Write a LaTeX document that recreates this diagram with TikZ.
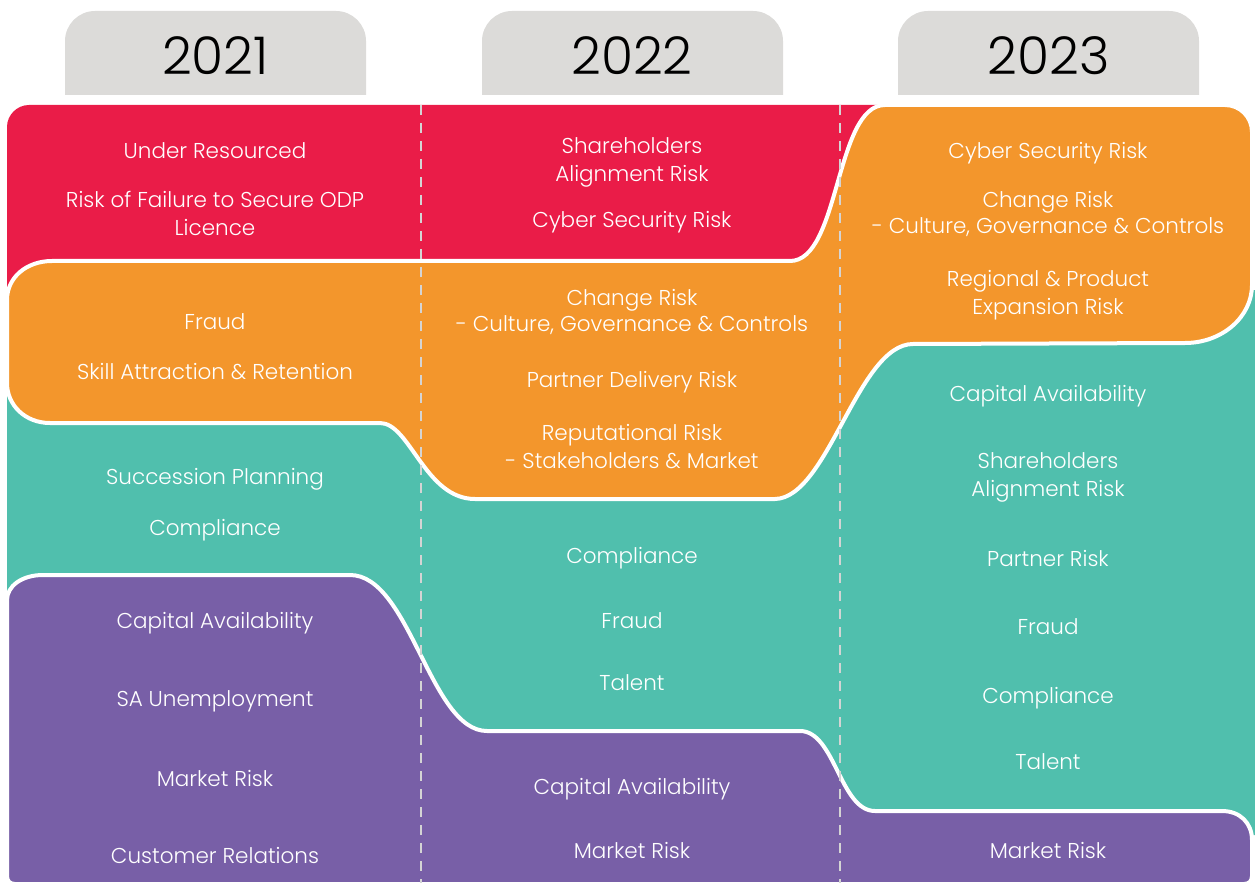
\documentclass[tikz,border=0pt]{standalone}
\usepackage{fontspec}
\IfFontExistsTF{Poppins Light}{\setmainfont{Poppins Light}}{\setmainfont{Poppins}}
\definecolor{cred}{HTML}{EA1C48}
\definecolor{corange}{HTML}{F3962C}
\definecolor{cteal}{HTML}{50BFAD}
\definecolor{cpurple}{HTML}{785FA7}
\definecolor{ctab}{HTML}{DCDBD9}
\definecolor{cdash}{HTML}{D4D4D4}
\begin{document}
\begin{tikzpicture}[x=1pt,y=-1pt,
  lbl/.style={font=\fontsize{21.5}{28}\selectfont, text=white, align=center, inner sep=0pt},
  lblt/.style={lbl, font=\fontsize{21.5}{26}\selectfont},
  year/.style={font=\fontsize{52}{60}\selectfont, text=black, inner sep=0pt},
  band/.style={draw=white, line width=4pt, line join=round},
  divider/.style={draw=cdash, line width=2.2pt, dash pattern=on 10pt off 8pt}]
\useasboundingbox (0,0) rectangle (1255,885);

% year tabs
\foreach \x in {65,482,898}{
  \fill[ctab] (\x,95) -- (\x,41) .. controls (\x,24.5) and ({\x+13.5},11) .. ({\x+30},11)
    -- ({\x+271},11) .. controls ({\x+287.5},11) and ({\x+301},24.5) .. ({\x+301},41)
    -- ({\x+301},95) -- cycle;
}
\node[year] (y2021) at (215.5,56) {2021};
\node[year] (y2022) at (632,56) {2022};
\node[year] (y2023) at (1048.5,56) {2023};

% background bands
\fill[cred] (7,320) -- (7,127) .. controls (7,115) and (17,105) .. (29,105) -- (885,105) -- (885,300) -- cycle;
\fill[cteal] (7,320) -- (760,320) -- (900,290) -- (1255,290) -- (1255,835) -- (7,835) -- cycle;

% orange band
\path[band, fill=corange] (7,300) .. controls (7,277) and (27,261) .. (52,261)
  -- (790,261) .. controls (840,261) and (835,105) .. (885,105)
  -- (1225,105) .. controls (1240,105) and (1252,117) .. (1252,132)
  -- (1252,285) .. controls (1252,317) and (1222,343) .. (1185,343)
  -- (913,344) .. controls (858,344) and (828,498) .. (775,499)
  -- (475,499) .. controls (425,499) and (410,423) .. (380,423)
  -- (50,423) .. controls (25,423) and (7,405) .. (7,383) -- cycle;

% purple band
\path[band, fill=cpurple] (7,600) .. controls (7,586) and (22,575) .. (43,575)
  -- (350,575) .. controls (410,575) and (430,731) .. (487,731)
  -- (800,731) .. controls (835,731) and (840,811) .. (875,811)
  -- (1222,811) .. controls (1240,811) and (1252,823) .. (1252,840)
  -- (1252,876) .. controls (1252,881) and (1249,884) .. (1244,884)
  -- (15,884) .. controls (10,884) and (7,881) .. (7,876) -- cycle;

% dashed column dividers
\draw[divider] (421,105) -- (421,883);
\draw[divider] (840,105) -- (840,883);

% column 2021
\node[lbl] (a1) at (215,153) {\strut Under Resourced\strut};
\node[lbl] (a2) at (215,215.5) {\strut Risk of Failure to Secure ODP\\Licence\strut};
\node[lbl] (a3) at (215,324) {\strut Fraud\strut};
\node[lbl] (a4) at (215,374) {\strut Skill Attraction \& Retention\strut};
\node[lbl] (a5) at (215,479) {\strut Succession Planning\strut};
\node[lbl] (a6) at (215,530) {\strut Compliance\strut};
\node[lbl] (a7) at (215,623) {\strut Capital Availability\strut};
\node[lbl] (a8) at (215,701) {\strut SA Unemployment\strut};
\node[lbl] (a9) at (215,781) {\strut Market Risk\strut};
\node[lbl] (a10) at (215,858) {\strut Customer Relations\strut};

% column 2022
\node[lbl] (b1) at (632,162) {\strut Shareholders\\Alignment Risk\strut};
\node[lbl] (b2) at (632,222) {\strut Cyber Security Risk\strut};
\node[lblt] (b3) at (632,313) {\strut Change Risk\\- Culture, Governance \& Controls\strut};
\node[lbl] (b4) at (632,382) {\strut Partner Delivery Risk\strut};
\node[lbl] (b5) at (632,449) {\strut Reputational Risk\\- Stakeholders \& Market\strut};
\node[lbl] (b6) at (632,558) {\strut Compliance\strut};
\node[lbl] (b7) at (632,623) {\strut Fraud\strut};
\node[lbl] (b8) at (632,685) {\strut Talent\strut};
\node[lbl] (b9) at (632,789) {\strut Capital Availability\strut};
\node[lbl] (b10) at (632,853) {\strut Market Risk\strut};

% column 2023
\node[lbl] (c1) at (1048,153) {\strut Cyber Security Risk\strut};
\node[lblt] (c2) at (1048,215.5) {\strut Change Risk\\- Culture, Governance \& Controls\strut};
\node[lbl] (c3) at (1048,295) {\strut Regional \& Product\\Expansion Risk\strut};
\node[lbl] (c4) at (1048,396) {\strut Capital Availability\strut};
\node[lbl] (c5) at (1048,476.5) {\strut Shareholders\\Alignment Risk\strut};
\node[lbl] (c6) at (1048,561) {\strut Partner Risk\strut};
\node[lbl] (c7) at (1048,629) {\strut Fraud\strut};
\node[lbl] (c8) at (1048,698) {\strut Compliance\strut};
\node[lbl] (c9) at (1048,764) {\strut Talent\strut};
\node[lbl] (c10) at (1048,853) {\strut Market Risk\strut};
\end{tikzpicture}
\end{document}
